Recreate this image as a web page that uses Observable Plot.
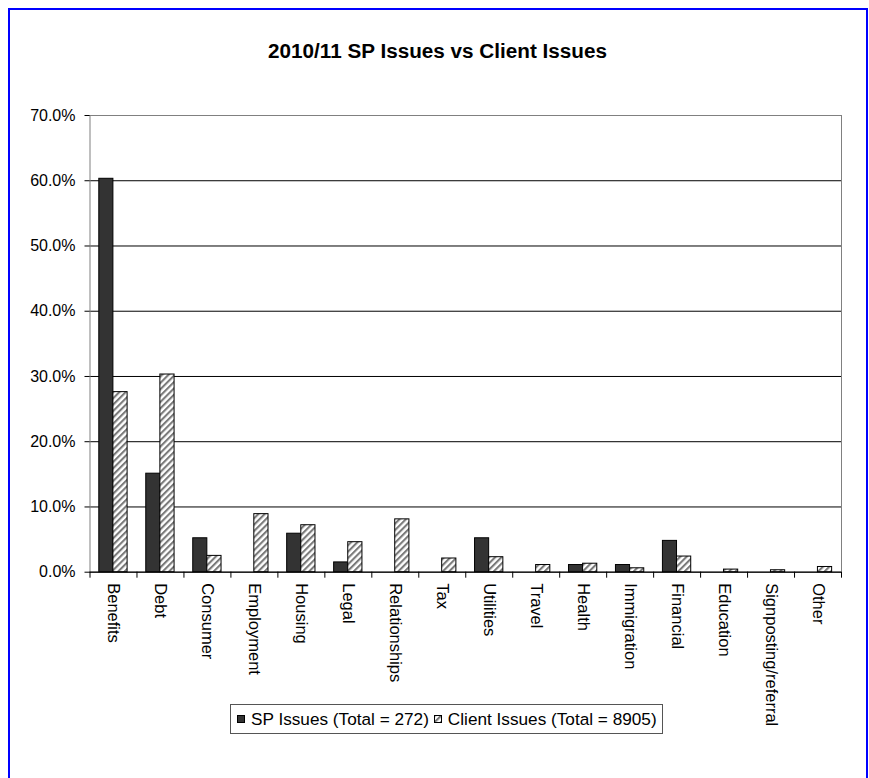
<!DOCTYPE html>
<html><head><meta charset="utf-8">
<script src="https://cdn.jsdelivr.net/npm/d3@7"></script>
<script src="https://cdn.jsdelivr.net/npm/@observablehq/plot@0.6"></script>
<style>
html,body{margin:0;padding:0;overflow:hidden;background:#fff;}
body{font-family:"Liberation Sans",Arial,sans-serif;color:#000;width:869px;height:778px;position:relative;}
#frame{position:absolute;left:8px;top:8px;width:860px;height:800px;border:2px solid #0000ff;box-sizing:border-box;}
#title{position:absolute;left:0;top:41px;width:875px;text-align:center;font-weight:bold;font-size:20.7px;line-height:20px;}
#chart{position:absolute;left:0;top:90px;}
#legend{position:absolute;left:230px;top:704px;width:433px;height:30px;border:1px solid #555;box-sizing:border-box;font-size:17.2px;display:flex;align-items:center;padding-left:6px;white-space:nowrap;background:#fff;}
#legend .sw{display:inline-block;width:8px;height:8px;box-sizing:border-box;border:1px solid #000;margin-right:6px;}
#legend .sw.sp{background:#333;}
#legend svg{margin-right:6px;margin-left:5px;}
</style></head>
<body>
<div id="frame"></div>
<div id="title">2010/11 SP Issues vs Client Issues</div>
<div id="chart"></div>
<div id="legend"><span class="sw sp"></span><span>SP Issues (Total = 272)</span><svg width="8" height="8"><rect x="0.5" y="0.5" width="7" height="7" fill="url(#hatch)" stroke="#000"/></svg><span>Client Issues (Total = 8905)</span></div>
<script>
const categories = ["Benefits","Debt","Consumer","Employment","Housing","Legal","Relationships","Tax","Utilities","Travel","Health","Immigration","Financial","Education","Signposting/referral","Other"];
const spIssues = [0.603,0.151,0.052,0,0.059,0.015,0,0,0.052,0,0.011,0.011,0.048,0,0,0];
const clientIssues = [0.276,0.303,0.025,0.089,0.072,0.046,0.081,0.021,0.023,0.011,0.013,0.006,0.024,0.004,0.003,0.008];
const yTicks = [0,0.1,0.2,0.3,0.4,0.5,0.6,0.7];

const data = categories.map((c,i)=>({category:c, sp:spIssues[i], client:clientIssues[i]}));

const W = 869, mL = 89.5, mR = 28;
const bw = (W - mL - mR) / categories.length;

const chart = Plot.plot({
  width: W, height: 688,
  marginLeft: mL, marginRight: mR, marginTop: 25, marginBottom: 206.3,
  style: {fontFamily: "Liberation Sans, Arial, sans-serif", fontSize: "16px", background: "transparent", color: "#000"},
  x: {domain: categories, paddingInner: 0, paddingOuter: 0, round: false, axis: null, label: null},
  y: {domain: [0, 0.7], axis: null, label: null},
  marks: [
    Plot.gridY(yTicks, {stroke: "#000", strokeOpacity: 1}),
    Plot.frame({stroke: "#808080"}),
    Plot.barY(data.filter(d=>d.sp>0), {x: "category", y: "sp", fill: "#333", stroke: "#000", insetLeft: 9.3, insetRight: bw - 23.4}),
    Plot.barY(data.filter(d=>d.client>0), {x: "category", y: "client", fill: "url(#hatch)", stroke: "#000", insetLeft: 23.4, insetRight: bw - 37.6}),
    Plot.ruleY([0], {stroke: "#000"}),
    Plot.axisY(yTicks, {tickSize: 5, tickPadding: 9.5, tickFormat: d3.format(".1%"), fontSize: 16, stroke: "#000", label: null}),
    Plot.axisX(categories, {tickSize: 6, tickFormat: () => "", dx: -bw/2, stroke: "#000", label: null}),
    Plot.axisX([categories[categories.length-1]], {tickSize: 6, tickFormat: () => "", dx: bw/2, stroke: "#000", label: null}),
    Plot.axisX(categories, {tickSize: 0, tickPadding: 11, tickRotate: 90, fontSize: 16.5, label: null})
  ]
});
d3.select(chart).insert("defs", ":first-child").html(
  '<pattern id="hatch" patternUnits="userSpaceOnUse" width="4.5" height="4.5" patternTransform="rotate(45)">' +
  '<rect width="4.5" height="4.5" fill="#fff"/><line x1="1" y1="0" x2="1" y2="4.5" stroke="#7a7a7a" stroke-width="2.2"/></pattern>');
document.getElementById("chart").appendChild(chart);
</script>
</body></html>
